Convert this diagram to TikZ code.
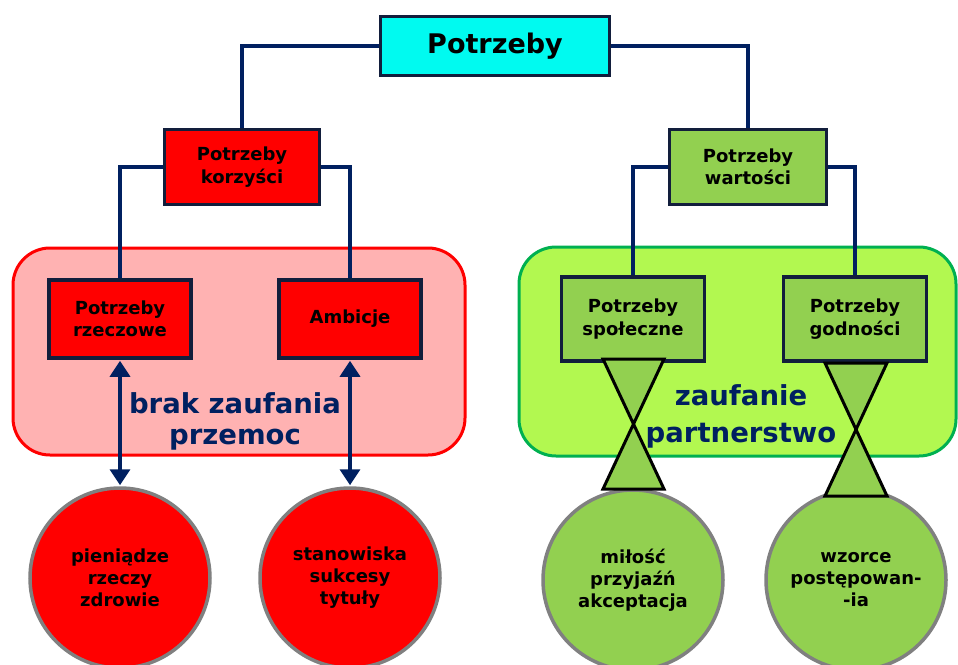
\documentclass[tikz,border=0pt]{standalone}
\usepackage{fontspec}
\setmainfont{DejaVu Sans}
\usepackage{tikz}
\usetikzlibrary{arrows.meta}
\usetikzlibrary{positioning}

\definecolor{topcyan}{RGB}{0,250,240}
\definecolor{boxred}{RGB}{255,0,0}
\definecolor{boxgreen}{RGB}{146,208,80}
\definecolor{areapink}{RGB}{255,178,178}
\definecolor{arearim}{RGB}{0,176,80}
\definecolor{arealime}{RGB}{178,248,80}
\definecolor{navy}{RGB}{0,32,96}
\definecolor{boxrim}{RGB}{18,30,60}

\begin{document}
\begin{tikzpicture}[x=1pt, y=-1pt, font=\bfseries,
    every node/.style={align=center, inner sep=0pt},
    need/.style={rectangle, draw=boxrim, line width=3.5pt, minimum width=142pt, minimum height=78pt, font=\fontsize{18}{22.5}\selectfont\bfseries},
    goal/.style={circle, draw=gray, line width=3.5pt, minimum size=180pt, font=\fontsize{18}{22}\selectfont\bfseries},
    link/.style={draw=navy, line width=3.5pt},
    twoway/.style={link, {Triangle[width=20pt,length=16pt]}-{Triangle[width=20pt,length=16pt]}, shorten <=1pt, shorten >=1pt},
    glass/.style={draw=black, line width=3pt, fill=boxgreen, line join=miter},
    mood/.style={text=navy, font=\fontsize{27.5}{31}\selectfont\bfseries}]
        % Fix the page to the size of the picture
        \useasboundingbox (0,0) rectangle (958,664);
        \clip (0,0) rectangle (958,664);

        % Draw the two shaded areas
        \draw[red, fill=areapink, line width=3pt, rounded corners=37pt] (13,248) rectangle (465,455);
        \draw[arearim, fill=arealime, line width=3pt, rounded corners=37pt] (519,247) rectangle (956,456);

        % Draw the boxes of the tree
        \node[need, fill=topcyan, minimum width=229pt, minimum height=59pt, font=\fontsize{27}{30}\selectfont\bfseries] (top) at (495,46) {\raisebox{-2pt}{Potrzeby}};
        \node[need, fill=boxred, minimum width=155pt, minimum height=75pt] (korz) at (242,167) {Potrzeby\\korzyści};
        \node[need, fill=boxgreen, minimum width=157pt, minimum height=75pt] (wart) at (748,167) {Potrzeby\\wartości};
        \node[need, fill=boxred] (rzecz) at (120,319) {Potrzeby\\rzeczowe};
        \node[need, fill=boxred] (ambi) at (350,319) {Ambicje};
        \node[need, fill=boxgreen, minimum width=143pt, minimum height=84pt] (spol) at (633,319) {Potrzeby\\społeczne};
        \node[need, fill=boxgreen, minimum width=143pt, minimum height=84pt] (godn) at (855,319) {Potrzeby\\godności};

        % Connect the boxes
        \draw[link] (top.west) -| (korz.north);
        \draw[link] (top.east) -| (wart.north);
        \draw[link] (korz.west) -| (rzecz.north);
        \draw[link] (korz.east) -| (ambi.north);
        \draw[link] (wart.west) -| (spol.north);
        \draw[link] (wart.east) -| (godn.north);

        % Draw the circles
        \node[goal, fill=boxred] (kasa) at (120,578) {pieniądze\\rzeczy\\zdrowie};
        \node[goal, fill=boxred] (tytul) at (350,578) {stanowiska\\sukcesy\\tytuły};
        \node[goal, fill=boxgreen] (milosc) at (633,580) {miłość\\przyjaźń\\akceptacja};
        \node[goal, fill=boxgreen] (wzorce) at (856,580) {wzorce\\postępowan-\\-ia};

        % Arrows on the left side
        \draw[twoway] (rzecz.south) -- (kasa.north);
        \draw[twoway] (ambi.south) -- (tytul.north);

        % Hourglasses on the right side
        \draw[glass] (603,359) -- (664,359) -- (603,489) -- (664,489) -- cycle;
        \draw[glass] (825,363) -- (887,363) -- (825,496) -- (887,496) -- cycle;

        % Texts in the shaded areas
        \node[mood] (brak) at (235,421) {brak zaufania\\przemoc};
        \node[mood, font=\fontsize{27.5}{37}\selectfont\bfseries] (zauf) at (741,416) {zaufanie\\partnerstwo};
      \end{tikzpicture}
\end{document}
